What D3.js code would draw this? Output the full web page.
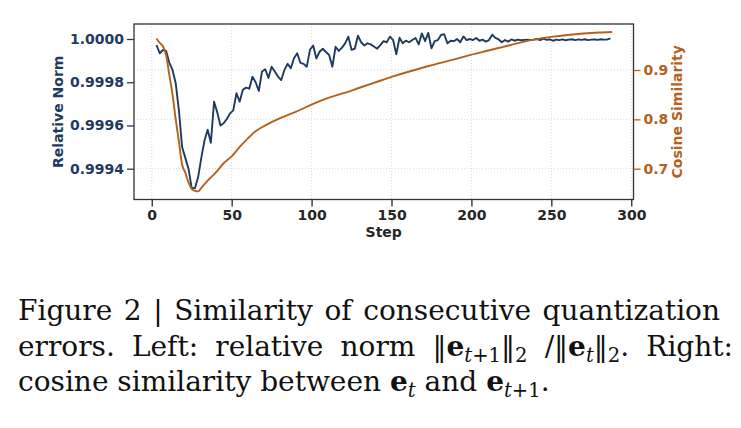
<!DOCTYPE html>
<html>
<head>
<meta charset="utf-8">
<script src="https://cdn.jsdelivr.net/npm/d3@7"></script>
<style>
  body { margin: 0; background: #fff; }
  svg { display: block; }
</style>
</head>
<body>
<div id="chart"></div>
<script>
// relative norm, one value every 2 steps starting at step 3
var normFirstStep = 3;
var relNorm = [
  0.999972, 0.999934, 0.999949, 0.999945, 0.999890, 0.999857, 0.999795, 0.999670, 0.999500, 0.999450,
  0.999400, 0.999310, 0.999310, 0.999360, 0.999450, 0.999530, 0.999580, 0.999520, 0.999710, 0.999660,
  0.999600, 0.999610, 0.999630, 0.999656, 0.999670, 0.999749, 0.999710, 0.999765, 0.999775, 0.999770,
  0.999825, 0.999800, 0.999760, 0.999850, 0.999860, 0.999820, 0.999872, 0.999850, 0.999826, 0.999810,
  0.999857, 0.999885, 0.999865, 0.999911, 0.999934, 0.999890, 0.999885, 0.999872, 0.999950, 0.999970,
  0.999910, 0.999941, 0.999955, 0.999940, 0.999926, 0.999872, 0.999964, 0.999945, 0.999960, 0.999980,
  1.000011, 0.999950, 0.999955, 1.000015, 0.999985, 0.999970, 0.999980, 0.999975, 0.999965, 0.999955,
  0.999972, 0.999990, 0.999985, 1.000011, 0.999995, 0.999929, 1.000006, 0.999980, 0.999992, 0.999985,
  0.999995, 1.000005, 0.999975, 1.000026, 0.999990, 1.000028, 0.999957, 0.999990, 0.999995, 1.000019,
  1.000022, 0.999980, 0.999992, 0.999990, 1.000000, 0.999985, 1.000012, 0.999995, 1.000000, 0.999995,
  1.000005, 0.999992, 0.999997, 0.999988, 0.999995, 1.000020, 1.000005, 0.999998, 0.999985, 0.999995,
  0.999988, 0.999998, 0.999992, 0.999997, 0.999994, 0.999996, 0.999997, 0.999995, 0.999997, 1.000000,
  0.999995, 1.000002, 0.999996, 0.999998, 0.999992, 0.999997, 0.999995, 0.999998, 0.999994, 0.999997,
  0.999999, 0.999995, 0.999998, 0.999996, 0.999999, 0.999995, 0.999997, 0.999998, 0.999996, 0.999999,
  0.999997, 0.999998, 1.000003
];

// cosine similarity between consecutive errors
var cosSteps = [3, 5, 7, 9, 11, 13, 15, 17, 19, 21, 23, 25, 27, 29, 31, 35, 40, 45, 50, 55, 60, 65, 70,
  80, 90, 100, 110, 120, 130, 140, 150, 160, 170, 180, 190, 200, 210, 220, 230, 240, 250, 260, 270, 280, 288];
var cosSim = [0.964, 0.955, 0.948, 0.930, 0.890, 0.850, 0.800, 0.755, 0.708, 0.692, 0.672, 0.659, 0.655, 0.654,
  0.661, 0.676, 0.692, 0.711, 0.725, 0.744, 0.761, 0.776, 0.786,
  0.802, 0.815, 0.830, 0.843, 0.853, 0.864, 0.875, 0.886, 0.896, 0.905, 0.914, 0.922, 0.931, 0.939,
  0.947, 0.955, 0.962, 0.967, 0.971, 0.974, 0.976, 0.977];

var xTicks = [0, 50, 100, 150, 200, 250, 300];
var normTicks = [0.9994, 0.9996, 0.9998, 1.0000];
var cosTicks = [0.7, 0.8, 0.9];

var W = 741, H = 428;
var plot = {left: 134, right: 633.5, top: 24, bottom: 199.5};
var navy = "#1f3a5f", rust = "#b5601c", ink = "#262626";
var tickFont = "'DejaVu Sans', sans-serif";

var svg = d3.select("#chart").append("svg")
  .attr("width", W).attr("height", H);

var x = d3.scaleLinear().domain([-11.1, 301.4]).range([plot.left, plot.right]);
var yNorm = d3.scaleLinear().domain([0.9992575, 1.0000694]).range([plot.bottom, plot.top]);
var yCos = d3.scaleLinear().domain([0.6376, 0.9932]).range([plot.bottom, plot.top]);

// grid
var grid = svg.append("g").attr("class", "grid");
grid.selectAll(".vg").data(xTicks).enter().append("line")
  .attr("x1", d => x(d)).attr("x2", d => x(d))
  .attr("y1", plot.top).attr("y2", plot.bottom)
  .style("stroke", "#cfcfcf").style("stroke-width", 0.8).style("stroke-dasharray", "1,2");
grid.selectAll(".hg").data(cosTicks).enter().append("line")
  .attr("x1", plot.left).attr("x2", plot.right)
  .attr("y1", d => yCos(d)).attr("y2", d => yCos(d))
  .style("stroke", "#cfcfcf").style("stroke-width", 0.8).style("stroke-dasharray", "1,2");

// lines
svg.append("clipPath").attr("id", "clip").append("rect")
  .attr("x", plot.left).attr("y", plot.top)
  .attr("width", plot.right - plot.left).attr("height", plot.bottom - plot.top);

var normLine = d3.line()
  .x((d, i) => x(normFirstStep + 2 * i))
  .y(d => yNorm(d));
svg.append("path").datum(relNorm)
  .attr("clip-path", "url(#clip)")
  .attr("d", normLine)
  .style("fill", "none").style("stroke", navy).style("stroke-width", 1.9)
  .style("stroke-linejoin", "round");

var cosLine = d3.line()
  .curve(d3.curveMonotoneX)
  .x((d, i) => x(cosSteps[i]))
  .y(d => yCos(d));
svg.append("path").datum(cosSim)
  .attr("clip-path", "url(#clip)")
  .attr("d", cosLine)
  .style("fill", "none").style("stroke", rust).style("stroke-width", 1.9)
  .style("stroke-linejoin", "round");

// frame
svg.append("rect")
  .attr("x", plot.left).attr("y", plot.top)
  .attr("width", plot.right - plot.left).attr("height", plot.bottom - plot.top)
  .style("fill", "none").style("stroke", "#333").style("stroke-width", 1.3);

// axes
function styleAxis(g, color) {
  g.select(".domain").remove();
  g.selectAll("line").style("stroke", color).style("stroke-width", 1.3);
  g.selectAll("text")
    .style("font-family", tickFont).style("font-size", "14px")
    .style("font-weight", "bold").style("fill", color);
}

svg.append("g")
  .attr("transform", "translate(0," + plot.bottom + ")")
  .call(d3.axisBottom(x).tickValues(xTicks).tickFormat(d3.format("d")).tickSize(7).tickPadding(3.5))
  .call(g => styleAxis(g, ink));

svg.append("g")
  .attr("transform", "translate(" + plot.left + ",0)")
  .call(d3.axisLeft(yNorm).tickValues(normTicks).tickFormat(d3.format(".4f")).tickSize(7).tickPadding(3))
  .call(g => styleAxis(g, navy));

svg.append("g")
  .attr("transform", "translate(" + plot.right + ",0)")
  .call(d3.axisRight(yCos).tickValues(cosTicks).tickFormat(d3.format(".1f")).tickSize(7).tickPadding(3))
  .call(g => styleAxis(g, rust));

// axis titles
var midY = (plot.top + plot.bottom) / 2;
svg.append("text")
  .attr("x", (plot.left + plot.right) / 2).attr("y", 237)
  .attr("text-anchor", "middle")
  .style("font-family", tickFont).style("font-size", "14px").style("font-weight", "bold")
  .style("fill", ink).text("Step");
svg.append("text")
  .attr("transform", "translate(63," + midY + ") rotate(-90)")
  .attr("text-anchor", "middle")
  .style("font-family", tickFont).style("font-size", "14px").style("font-weight", "bold")
  .style("fill", navy).text("Relative Norm");
svg.append("text")
  .attr("transform", "translate(682," + midY + ") rotate(-90)")
  .attr("text-anchor", "middle")
  .style("font-family", tickFont).style("font-size", "14px").style("font-weight", "bold")
  .style("fill", rust).text("Cosine Similarity");

// caption
var captionLines = [
  [{t: "Figure 2 | Similarity of consecutive quantization"}],
  [{t: "errors. Left: relative norm \u2016"}, {t: "e", b: 1}, {t: "t", i: 1, sub: 1}, {t: "+1", sub: 1},
   {t: "\u2016"}, {t: "2", sub: 1}, {t: " /\u2016"}, {t: "e", b: 1}, {t: "t", i: 1, sub: 1}, {t: "\u2016"},
   {t: "2", sub: 1}, {t: ". Right:"}],
  [{t: "cosine similarity between "}, {t: "e", b: 1}, {t: "t", i: 1, sub: 1}, {t: " and "}, {t: "e", b: 1},
   {t: "t", i: 1, sub: 1}, {t: "+1", sub: 1}, {t: "."}]
];
var capX = 18, capBase = [320, 356, 391], capRight = [720, 733, null];
var capFont = "'DejaVu Serif', serif";

function drawLine(segs, y, fs) {
  var txt = svg.append("text")
    .attr("x", capX).attr("y", y)
    .style("font-family", capFont).style("font-size", fs + "px").style("fill", "#111");
  var inSub = false;
  segs.forEach(function(s) {
    var sp = txt.append("tspan").text(s.t);
    var shift = 0.2 * fs;
    if (s.sub && !inSub) sp.attr("dy", shift);
    if (!s.sub && inSub) sp.attr("dy", -shift);
    inSub = !!s.sub;
    sp.style("font-size", (s.sub ? 0.7 * fs : fs) + "px");
    if (s.b) sp.style("font-weight", "bold");
    if (s.i) sp.style("font-style", "italic");
  });
  return txt;
}

// fit the font size on the last (non-justified) line
var probe = drawLine(captionLines[2], -100, 30);
var fs = 30 * (550 - capX) / probe.node().getComputedTextLength();
probe.remove();

captionLines.forEach(function(segs, k) {
  var txt = drawLine(segs, capBase[k], fs);
  if (capRight[k]) {
    var w = txt.node().getComputedTextLength();
    var spaces = segs.map(s => s.t).join("").split(" ").length - 1;
    txt.style("word-spacing", ((capRight[k] - capX - w) / spaces) + "px");
  }
});
</script>
</body>
</html>
